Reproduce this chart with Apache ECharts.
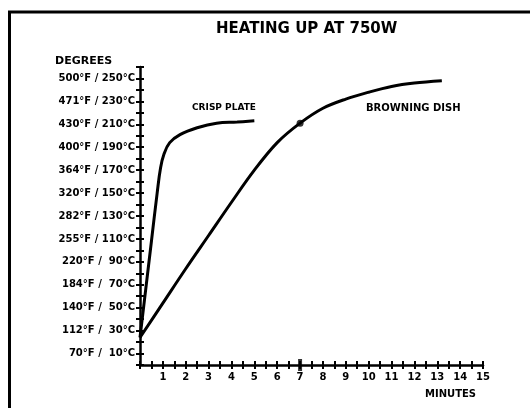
<!DOCTYPE html>
<html>
<head>
<meta charset="utf-8">
<script src="https://cdn.jsdelivr.net/npm/echarts@6/dist/echarts.min.js"></script>
<style>
  html, body { margin: 0; padding: 0; background: #fff; }
  #chart { width: 530px; height: 408px; }
</style>
</head>
<body>
<div id="chart"></div>
<script>
  // minutes / degrees C
  var crispMinutes = [0, 0.25, 0.5, 0.75, 0.9, 1.05, 1.3, 1.75, 2.5, 3.35, 4.25, 5.0]
  var crispTemps = [24, 66, 108, 150, 172, 184, 194, 201, 207, 211, 212, 213]

  var dishMinutes = [0, 1, 2, 3, 4, 5, 6, 7, 8, 9, 10, 11, 12, 13.2]
  var dishTemps = [24, 54, 84, 113, 142, 170, 194, 211, 224, 232, 238, 243, 246, 248]

  // the dot on the browning dish curve and the heavy tick under it
  var markMinute = 7
  var markTemp = 211

  var yTickCelsius = [10, 30, 50, 70, 90, 110, 130, 150, 170, 190, 210, 230, 250]
  var yTickLabels = [
    '70°F /  10°C', '112°F /  30°C', '140°F /  50°C', '184°F /  70°C',
    '220°F /  90°C', '255°F / 110°C', '282°F / 130°C', '320°F / 150°C',
    '364°F / 170°C', '400°F / 190°C', '430°F / 210°C', '471°F / 230°C',
    '500°F / 250°C'
  ]
  var xTickLabels = ['1', '2', '3', '4', '5', '6', '7', '8', '9', '10', '11', '12', '13', '14', '15']

  var font = 'DejaVu Sans'
  var black = '#000'

  function pairs(xs, ys) {
    return xs.map(function (x, i) { return [x, ys[i]] })
  }

  var chart = echarts.init(document.getElementById('chart'))

  var xBase = {
    type: 'value',
    min: 0,
    max: 15,
    interval: 0.5,
    splitLine: { show: false },
    axisLine: { show: true, onZero: false, lineStyle: { color: black, width: 2.5 } },
    axisTick: { show: true, length: 4, lineStyle: { color: black, width: 2 } }
  }
  var yBase = {
    type: 'value',
    min: 0,
    max: 260,
    interval: 10,
    splitLine: { show: false },
    axisLine: { show: true, onZero: false, lineStyle: { color: black, width: 2.5 } },
    axisTick: { show: true, length: 4, lineStyle: { color: black, width: 2 } }
  }

  chart.setOption({
    animation: false,
    backgroundColor: '#fff',
    title: [
      {
        text: 'HEATING UP AT 750W', left: 216, top: 22, padding: 0,
        textStyle: { fontFamily: font, fontWeight: 'bold', fontSize: 15, color: black }
      },
      {
        text: 'DEGREES', left: 55, top: 56, padding: 0,
        textStyle: { fontFamily: font, fontWeight: 'bold', fontSize: 11, color: black }
      },
      {
        text: 'MINUTES', left: 425, top: 389, padding: 0,
        textStyle: { fontFamily: font, fontWeight: 'bold', fontSize: 10, color: black }
      },
      {
        text: 'CRISP PLATE', left: 192, top: 103, padding: 0,
        textStyle: { fontFamily: font, fontWeight: 'bold', fontSize: 9, color: black }
      },
      {
        text: 'BROWNING DISH', left: 366, top: 103, padding: 0,
        textStyle: { fontFamily: font, fontWeight: 'bold', fontSize: 10, color: black }
      }
    ],
    graphic: [
      { type: 'line', shape: { x1: 8, y1: 12, x2: 530, y2: 12 }, style: { stroke: black, lineWidth: 3 } },
      { type: 'line', shape: { x1: 9.5, y1: 11, x2: 9.5, y2: 408 }, style: { stroke: black, lineWidth: 3 } }
    ],
    grid: { left: 140, right: 47, top: 67, bottom: 43, containLabel: false },
    xAxis: [
      Object.assign({}, xBase, {
        axisLabel: {
          margin: 7,
          color: black,
          fontFamily: font,
          fontWeight: 'bold',
          fontSize: 10,
          formatter: function (v) {
            return (v % 1 === 0 && v > 0) ? xTickLabels[v - 1] : ''
          }
        }
      }),
      Object.assign({}, xBase, {
        position: 'bottom',
        axisLine: { show: false },
        axisTick: { show: true, inside: true, length: 4, lineStyle: { color: black, width: 2 } },
        axisLabel: { show: false }
      })
    ],
    yAxis: [
      Object.assign({}, yBase, {
        axisLabel: {
          margin: 5,
          color: black,
          fontFamily: font,
          fontWeight: 'bold',
          fontSize: 10,
          formatter: function (v) {
            var i = yTickCelsius.indexOf(v)
            return i < 0 ? '' : yTickLabels[i]
          }
        }
      }),
      Object.assign({}, yBase, {
        position: 'left',
        axisLine: { show: false },
        axisTick: { show: true, inside: true, length: 4, lineStyle: { color: black, width: 2 } },
        axisLabel: { show: false }
      })
    ],
    series: [
      {
        name: 'CRISP PLATE',
        type: 'line',
        smooth: 0.4,
        showSymbol: false,
        lineStyle: { color: black, width: 3 },
        data: pairs(crispMinutes, crispTemps)
      },
      {
        name: 'BROWNING DISH',
        type: 'line',
        smooth: 0.35,
        showSymbol: false,
        lineStyle: { color: black, width: 3 },
        data: pairs(dishMinutes, dishTemps)
      },
      {
        type: 'scatter',
        itemStyle: { color: black },
        data: [
          { value: [markMinute, markTemp], symbol: 'circle', symbolSize: 7 },
          { value: [markMinute, 0], symbol: 'rect', symbolSize: [4, 12] }
        ]
      }
    ]
  })
</script>
</body>
</html>
